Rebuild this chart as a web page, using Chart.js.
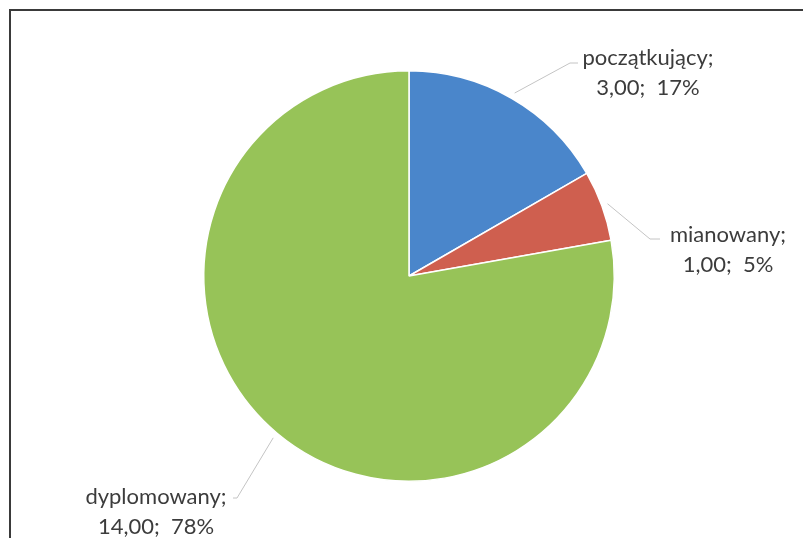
<!DOCTYPE html>
<html>
<head>
<meta charset="utf-8">
<script src="https://cdn.jsdelivr.net/npm/chart.js@4"></script>
<style>
  html, body { margin: 0; padding: 0; background: #fff; }
  #wrap { position: relative; width: 803px; height: 538px; }
  #frame {
    position: absolute; left: 9px; top: 9px; right: 0; bottom: 0;
    border-top: 2px solid #3a3a3a; border-left: 2px solid #3a3a3a;
    pointer-events: none;
  }
</style>
</head>
<body>
<div id="wrap">
  <canvas id="pieChart" width="803" height="538"></canvas>
  <div id="frame"></div>
</div>
<script>
const categories = ['początkujący', 'mianowany', 'dyplomowany'];
const values = [3, 1, 14];
const valueLabels = ['3,00', '1,00', '14,00'];
const percentLabels = ['17%', '5%', '78%'];
const colors = ['#4a86cb', '#cf5f4f', '#97c358'];

// label placement, relative to the pie centre: [leader elbow, leader end, text centre]
const labelPlace = [
  { elbow: [161, -213], end: [169, -213], text: [239, -203] },
  { elbow: [241, -37], end: [251, -37], text: [319, -26] },
  { elbow: [-172, 222], end: [-176, 222], text: [-253, 236] }
];

const outsideLabels = {
  id: 'outsideLabels',
  afterDraw(chart) {
    const c = chart.ctx;
    const arcs = chart.getDatasetMeta(0).data;
    c.save();
    arcs.forEach((arc, i) => {
      const p = labelPlace[i];
      const mid = (arc.startAngle + arc.endAngle) / 2;
      const r = arc.outerRadius + 6;
      const sx = arc.x + Math.cos(mid) * r;
      const sy = arc.y + Math.sin(mid) * r;
      c.strokeStyle = '#c4c4c4';
      c.lineWidth = 1;
      c.beginPath();
      c.moveTo(sx, sy);
      c.lineTo(arc.x + p.elbow[0], arc.y + p.elbow[1]);
      c.lineTo(arc.x + p.end[0], arc.y + p.end[1]);
      c.stroke();

      c.fillStyle = '#3c3c3c';
      c.font = '22px Lato, "Open Sans", sans-serif';
      c.textAlign = 'center';
      c.textBaseline = 'middle';
      const tx = arc.x + p.text[0];
      const ty = arc.y + p.text[1];
      c.fillText(categories[i] + ';', tx, ty - 15);
      c.fillText(valueLabels[i] + ';  ' + percentLabels[i], tx, ty + 15);
    });
    c.restore();
  }
};

new Chart(document.getElementById('pieChart'), {
  type: 'pie',
  data: {
    labels: categories,
    datasets: [{
      data: values,
      backgroundColor: colors,
      borderColor: '#ffffff',
      borderWidth: 1.5
    }]
  },
  options: {
    responsive: false,
    animation: false,
    layout: {
      padding: { top: 70, bottom: 56, left: 203, right: 188 }
    },
    plugins: {
      legend: { display: false },
      tooltip: { enabled: false }
    }
  },
  plugins: [outsideLabels]
});
</script>
</body>
</html>
